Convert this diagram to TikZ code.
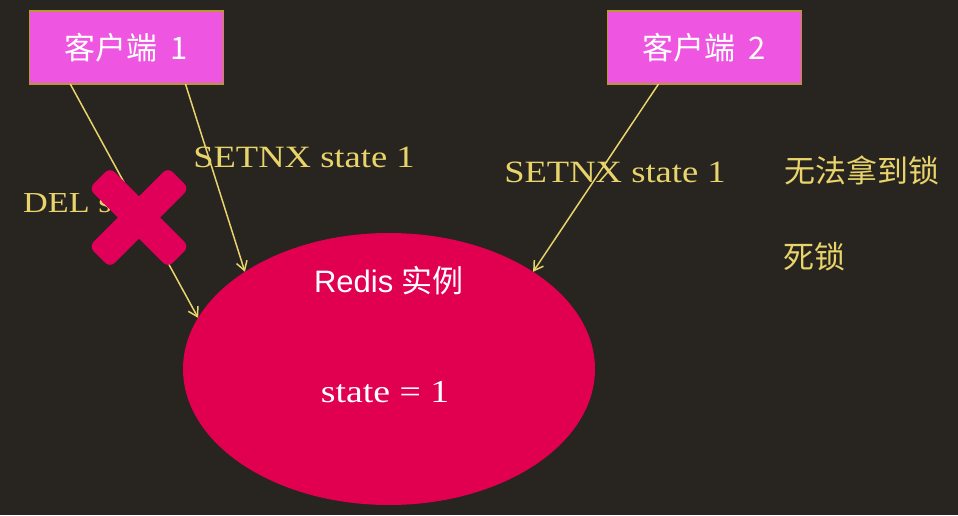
\documentclass[tikz,border=0pt]{standalone}
\usepackage{fontspec}
\setmainfont{Liberation Serif}[FakeStretch=1.18]
\newfontfamily\cjkf{Noto Sans CJK SC}
\newfontfamily\arialf{Liberation Sans}
\usetikzlibrary{arrows.meta,calc,shapes.geometric}
\definecolor{bg}{HTML}{282420}
\definecolor{boxfill}{HTML}{EE55E0}
\definecolor{boxline}{HTML}{B89830}
\definecolor{rediscol}{HTML}{E0004F}
\definecolor{crossc}{HTML}{E0005A}
\definecolor{lbl}{HTML}{E8D46A}
\tikzset{
 client/.style={draw=boxline, line width=1.4pt, fill=boxfill, minimum width=194pt, minimum height=73pt, inner sep=0pt, outer sep=0pt, text=white, font=\cjkf\fontsize{31}{31}\selectfont},
 inst/.style={ellipse, fill=rediscol, minimum width=412pt, minimum height=272pt, inner sep=0pt, outer sep=0pt},
 lab/.style={text=lbl, inner sep=0pt, font=\fontsize{31}{31}\selectfont},
 cjklab/.style={text=lbl, inner sep=0pt, font=\cjkf\fontsize{31}{31}\selectfont},
 wlab/.style={text=white, inner sep=0pt},
 conn/.style={draw=lbl, line width=1.5pt, -{Straight Barb[length=9pt,width=11pt]}},
 crossbar/.style={fill=crossc, minimum width=112pt, minimum height=30pt, rounded corners=7pt, inner sep=0pt},
}
\begin{document}
\begin{tikzpicture}[x=1pt,y=1pt]
\fill[bg] (0,0) rectangle (958,515);
\useasboundingbox (0,0) rectangle (958,515);
\node[client] (c1) at (126.5,467.5) {客户端\hspace{6pt} 1};
\node[client] (c2) at (704.5,467.5) {客户端\hspace{6pt} 2};
\node[inst] (r) at (389,146) {};
\node[wlab, anchor=base, font=\arialf\fontsize{31}{31}\selectfont] (rt) at (389,223) {Redis {\cjkf 实例}};
\node[wlab, anchor=base, font=\fontsize{32}{32}\selectfont] (st) at (385,113) {state = 1};
\draw[conn] ($(c1.south west)!0.21!(c1.south east)$) -- (r.165);
\draw[conn] ($(c1.south west)!0.804!(c1.south east)$) -- (r.146);
\draw[conn] ($(c2.south west)!0.263!(c2.south east)$) -- (r.34);
\node[lab, anchor=base] (l1) at (304,347) {SETNX state 1};
\node[lab, anchor=base] (l2) at (615,333) {SETNX state 1};
\node[lab, anchor=base west, font=\fontsize{29}{29}\selectfont] (l3) at (23,303) {DEL state};
\node[cjklab, anchor=base] (l4) at (862,332) {无法拿到锁};
\node[cjklab, anchor=base] (l5) at (814,247) {死锁};
\node[crossbar, rotate=45] (x1) at (139,297.5) {};
\node[crossbar, rotate=-45] (x2) at (139,297.5) {};
\end{tikzpicture}
\end{document}
